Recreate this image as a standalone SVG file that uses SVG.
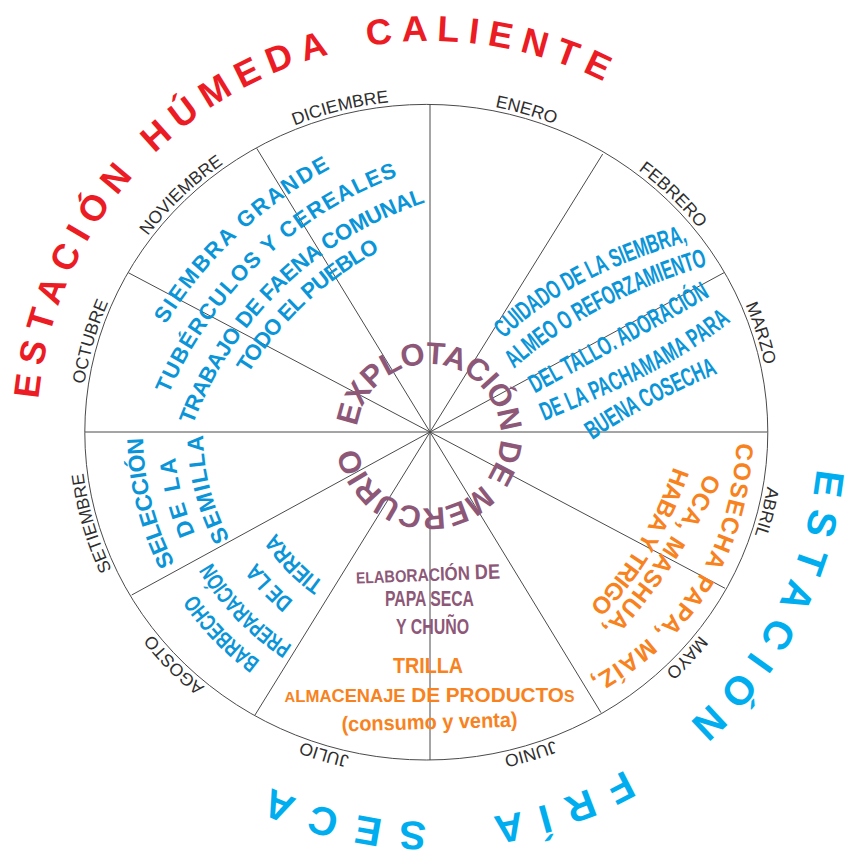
<svg xmlns="http://www.w3.org/2000/svg" width="846" height="857" viewBox="0 0 846 857">
<style>
text{font-family:"Liberation Sans",Arial,Helvetica,sans-serif}
.mo{font-size:17.5px;fill:#2e2e2e}
.red{fill:#ec1c24;font-size:36px;font-weight:bold}
.cy{fill:#00aeef;font-size:40px;font-weight:bold}
.bl{fill:#0a95d9;font-weight:bold}
.pu{fill:#8d5878;font-weight:bold}
.or{fill:#f7821e;font-weight:bold}
.c{dominant-baseline:central}
.sp{stroke:#4a4a4a;stroke-width:1;fill:none}
</style>
<defs>
<path id="pRed" d="M430,827 A393,393 0 1 1 430,41 A393,393 0 1 1 430,827"/>
<path id="pCy" d="M430,46 A388,388 0 1 1 430,822 A388,388 0 1 1 430,46"/>
<path id="pMo" d="M426.3,100.4 A345.5,331.8 0 1 1 426.3,764 A345.5,331.8 0 1 1 426.3,100.4"/>
<path id="pEx" d="M356.5,436 A72,72 0 1 1 500.5,436 A72,72 0 1 1 356.5,436"/>
<path id="a1" d="M92,556 A449,449 0 0 1 541,107"/>
<path id="a2" d="M127,556 A414,414 0 0 1 541,142"/>
<path id="a3" d="M161,556 A380,380 0 0 1 541,176"/>
<path id="a4" d="M188,556 A353,353 0 0 1 541,203"/>
<path id="s1" d="M430,727 A295,295 0 0 1 430,137"/>
<path id="s2" d="M430,696 A264,264 0 0 1 430,168"/>
<path id="s3" d="M430,667 A235,235 0 0 1 430,197"/>
<path id="g1" d="M430,725 A293,293 0 0 1 137,432"/>
<path id="g2" d="M430,694 A262,262 0 0 1 168,432"/>
<path id="g3" d="M430,657 A225,225 0 0 1 205,432"/>
<path id="g4" d="M430,624 A192,192 0 0 1 238,432"/>
<path id="u1" d="M496,334 C530,300 585,262 688,232"/>
<path id="u2" d="M506,364 C540,332 610,284 708,256"/>
<path id="u3" d="M528,387 C570,364 660,316 708,287"/>
<path id="u4" d="M538,414 C600,388 670,360 728,312"/>
<path id="u5" d="M585,434 C620,410 660,388 717,364"/>
<path id="o1" d="M746,436 Q739,609 588,690"/>
<path id="o2" d="M716,474 Q670.5,567 607,636"/>
<path id="o3" d="M683,467 Q653.5,555.5 594,614"/>
</defs>
<rect width="846" height="857" fill="#fff"/>
<g id="wheel">
<ellipse cx="426.3" cy="432.2" rx="341.5" ry="327.8" class="sp"/>
</g>
<g id="connectors" class="sp">
<line x1="430" y1="432" x2="430" y2="104.5"/>
<line x1="430" y1="432" x2="256.7" y2="148.3"/>
<line x1="430" y1="432" x2="128.3" y2="272.7"/>
<line x1="430" y1="432" x2="85" y2="432"/>
<line x1="430" y1="432" x2="131.7" y2="595"/>
<line x1="430" y1="432" x2="255" y2="715"/>
<line x1="430" y1="432" x2="430" y2="760"/>
<line x1="430" y1="432" x2="601" y2="712.7"/>
<line x1="430" y1="432" x2="725" y2="588.3"/>
<line x1="430" y1="432" x2="767.5" y2="432"/>
<line x1="430" y1="432" x2="724" y2="272.7"/>
<line x1="430" y1="432" x2="602.7" y2="154"/>
</g>
<g id="months" class="mo" text-anchor="middle">
<text><textPath href="#pMo" startOffset="4.72%">ENERO</textPath></text>
<text><textPath href="#pMo" startOffset="12.65%">FEBRERO</textPath></text>
<text><textPath href="#pMo" startOffset="20.33%">MARZO</textPath></text>
<text><textPath href="#pMo" startOffset="28.75%">ABRIL</textPath></text>
<text><textPath href="#pMo" startOffset="36.5%">MAYO</textPath></text>
<text><textPath href="#pMo" startOffset="45.09%">JUNIO</textPath></text>
<text><textPath href="#pMo" startOffset="54.81%">JULIO</textPath></text>
<text><textPath href="#pMo" startOffset="62.99%">AGOSTO</textPath></text>
<text><textPath href="#pMo" startOffset="70.7%">SETIEMBRE</textPath></text>
<text><textPath href="#pMo" startOffset="79.28%">OCTUBRE</textPath></text>
<text><textPath href="#pMo" startOffset="87.39%">NOVIEMBRE</textPath></text>
<text><textPath href="#pMo" startOffset="95.95%">DICIEMBRE</textPath></text>
</g>
<g id="estacion-humeda">
<text class="red" letter-spacing="9"><textPath href="#pRed" startOffset="652">ESTACIÓN <tspan dx="2.5">HÚMEDA</tspan> <tspan dx="12.5">CALIENTE</tspan></textPath></text>
</g>
<g id="estacion-fria">
<text class="cy" letter-spacing="12.4"><textPath href="#pCy" startOffset="644">ESTACIÓN <tspan dx="43.8" letter-spacing="16">FRÍA</tspan> <tspan dx="26.7" letter-spacing="16.5">SECA</tspan></textPath></text>
</g>
<g id="centro">
<text class="pu" font-size="31" letter-spacing="-0.9"><textPath href="#pEx" startOffset="9.5">EXPLOTACIÓN DE MERCURIO</textPath></text>
</g>
<g id="siembra" class="bl" font-size="22" text-anchor="middle">
<text class="c" letter-spacing="2.4"><textPath href="#a1" startOffset="51.9%">SIEMBRA GRANDE</textPath></text>
<text class="c" letter-spacing="1.6"><textPath href="#a2" startOffset="51.7%">TUBÉRCULOS Y CEREALES</textPath></text>
<text class="c" letter-spacing="-0.1"><textPath href="#a3" startOffset="51.4%">TRABAJO DE FAENA COMUNAL</textPath></text>
<text class="c" letter-spacing="-0.7"><textPath href="#a4" startOffset="52.2%">TODO EL PUEBLO</textPath></text>
</g>
<g id="cuidado" class="bl" font-size="26" text-anchor="middle">
<text class="c"><textPath href="#u1" startOffset="50%" textLength="214" lengthAdjust="spacingAndGlyphs">CUIDADO DE LA SIEMBRA,</textPath></text>
<text class="c"><textPath href="#u2" startOffset="50%" textLength="225" lengthAdjust="spacingAndGlyphs">ALMEO O REFORZAMIENTO</textPath></text>
<text class="c"><textPath href="#u3" startOffset="50%" textLength="200" lengthAdjust="spacingAndGlyphs">DEL TALLO. ADORACIÓN</textPath></text>
<text class="c"><textPath href="#u4" startOffset="50%" textLength="210" lengthAdjust="spacingAndGlyphs">DE LA PACHAMAMA PARA</textPath></text>
<text class="c"><textPath href="#u5" startOffset="50%" textLength="144" lengthAdjust="spacingAndGlyphs">BUENA COSECHA</textPath></text>
</g>
<g id="cosecha" class="or" font-size="24" text-anchor="middle">
<text class="c"><textPath href="#o1" startOffset="50%" textLength="300" lengthAdjust="spacing">COSECHA PAPA, MAÍZ,</textPath></text>
<text class="c"><textPath href="#o2" startOffset="50%" textLength="190" lengthAdjust="spacing">OCA, MASHUA,</textPath></text>
<text class="c"><textPath href="#o3" startOffset="50%" textLength="168" lengthAdjust="spacing">HABA Y TRIGO</textPath></text>
</g>
<g id="seleccion" class="bl" font-size="23" text-anchor="middle">
<text class="c"><textPath href="#s1" startOffset="42.1%">SELECCIÓN</textPath></text>
<text class="c" letter-spacing="3"><textPath href="#s2" startOffset="42.1%">DE LA</textPath></text>
<text class="c" letter-spacing="1.8"><textPath href="#s3" startOffset="42.1%">SEMILLA</textPath></text>
</g>
<g id="barbecho" class="bl" font-size="23" text-anchor="middle">
<text class="c"><textPath href="#g1" startOffset="51.1%" textLength="96" lengthAdjust="spacingAndGlyphs">BARBECHO</textPath></text>
<text class="c"><textPath href="#g2" startOffset="51.1%" textLength="120" lengthAdjust="spacingAndGlyphs">PREPARACIÓN</textPath></text>
<text class="c"><textPath href="#g3" startOffset="51.1%" textLength="55" lengthAdjust="spacingAndGlyphs">DE LA</textPath></text>
<text class="c"><textPath href="#g4" startOffset="51.1%" textLength="72" lengthAdjust="spacingAndGlyphs">TIERRA</textPath></text>
</g>
<g id="elaboracion" class="pu" text-anchor="middle">
<text x="428" y="581" font-size="21" textLength="144" lengthAdjust="spacingAndGlyphs" transform="rotate(-2 428 572)"><tspan font-size="16">EL</tspan><tspan font-size="17">ABO</tspan><tspan font-size="18">RAC</tspan><tspan font-size="19.5">IÓN</tspan> DE</text>
<text x="429.5" y="606" font-size="22" textLength="89" lengthAdjust="spacingAndGlyphs">PAPA SECA</text>
<text x="432.5" y="634" font-size="22" textLength="73" lengthAdjust="spacingAndGlyphs">Y CHUÑO</text>
</g>
<g id="trilla" class="or" text-anchor="middle">
<text x="428" y="673" font-size="22" textLength="70" lengthAdjust="spacingAndGlyphs">TRILLA</text>
<text x="429.5" y="702" font-size="21" textLength="290" lengthAdjust="spacingAndGlyphs"><tspan font-size="15">A</tspan><tspan font-size="17">LMA</tspan><tspan font-size="18.5">CENAJE</tspan> DE PRODUCTO<tspan font-size="16">S</tspan></text>
<text x="429.5" y="729" font-size="21" textLength="176" lengthAdjust="spacingAndGlyphs" transform="rotate(-1.5 429.5 722)">(consumo y venta)</text>
</g>
</svg>
